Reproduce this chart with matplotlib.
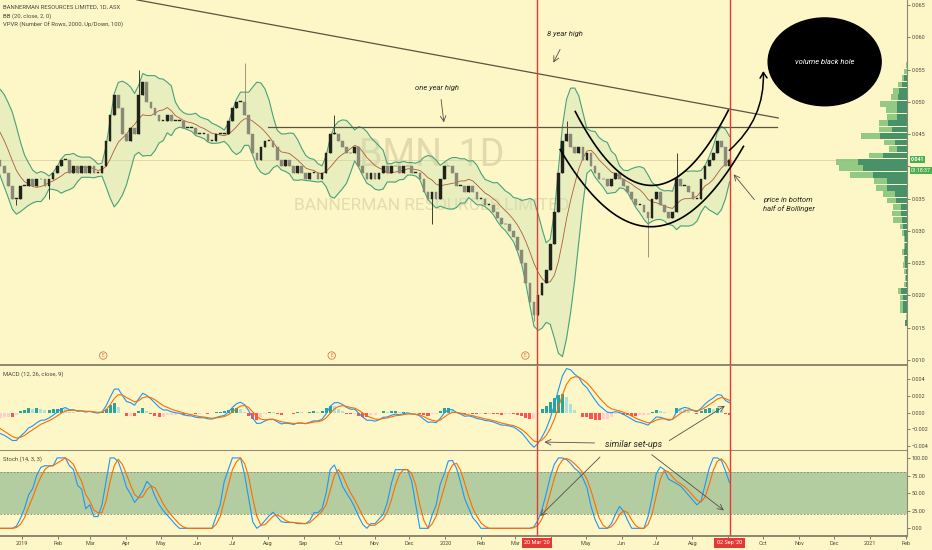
import numpy as np
import pandas as pd
import matplotlib
matplotlib.use('Agg')
import matplotlib.pyplot as plt
import matplotlib.dates as mdates
import matplotlib.transforms as mtrans
from matplotlib.patches import Ellipse, FancyArrowPatch

plt.rcParams['font.family'] = ['Roboto', 'DejaVu Sans']

# --- data ---------------------------------------------------------------
# closes in tenths of a cent (ASX tick is 0.001), two bars a week,
# 15 Nov 2018 -> 02 Sep 2020 (first 8 bars sit left of the visible window)
closes = [50, 49, 49, 48, 47, 45, 43, 41,
          40, 39, 37, 35, 35, 37, 37, 38, 37, 38, 38, 37, 38, 39, 40, 41, 41, 39,
          40, 39, 40, 39, 40, 39, 39, 40, 44, 48, 51, 49, 45, 44, 46, 45, 51, 53,
          50, 49, 48, 47, 47, 48, 47, 47, 47, 46, 46, 46, 45, 45, 45, 44, 44, 45,
          45, 45, 47, 49, 50, 50, 48, 45, 42, 41, 43, 44, 44, 43, 41, 40, 41, 40,
          39, 40, 39, 38, 39, 39, 38, 39, 42, 45, 45, 44, 43, 42, 42, 43, 40, 39,
          38, 39, 38, 39, 40, 39, 40, 40, 39, 40, 40, 39, 39, 38, 36, 35, 36, 35,
          38, 40, 40, 39, 37, 37, 36, 37, 36, 35, 35, 34, 34, 33, 32, 31, 31, 30,
          29, 27, 25, 22, 19, 17, 20, 22, 24, 28, 33, 39, 44, 45, 43, 42, 43, 41,
          42, 40, 39, 38, 38, 37, 38, 39, 38, 37, 36, 35, 34, 34, 33, 32, 35, 36,
          34, 33, 32, 33, 38, 37, 37, 36, 35, 35, 38, 40, 41, 42, 44, 43, 40, 41]
bar_start, bar_end = '2018-11-15', '2020-09-02'
# wicks that stick out past the bodies: {bar index: price}
high_spikes = {42: 55, 68: 56, 90: 48, 147: 47, 174: 42}
low_spikes = {12: 34, 20: 35, 114: 31, 139: 16, 167: 26}

# visible range volume profile (rows of 0.001), total and down volume
vp_levels = list(range(16, 57))
vp_total = [2, 1, 7, 7, 7, 9, 3, 2, 3, 4, 3, 5, 3, 3, 5, 7, 14, 15, 14, 20, 24,
            31, 33, 57, 68, 71, 38, 18, 23, 46, 28, 28, 20, 21, 27, 16, 14, 9, 5, 3, 1]
vp_down = [2, 0.5, 4, 4, 4, 6, 1.5, 1, 1.5, 2, 2, 3, 2, 2, 3, 4, 5, 6, 6, 11, 12,
           20, 20, 34, 44, 49, 24, 10, 12, 27, 15, 19, 10, 10, 10, 9, 8, 5, 3, 0.5, 0]

last_price = 0.041
marked_days = ['2020-03-20', '2020-09-02']
marked_labels = ["20 Mar '20", "02 Sep '20"]
earnings_days = ['2019-03-12', '2019-09-25', '2020-03-10']

# --- derived series -------------------------------------------------------
dates = pd.date_range(bar_start, bar_end, periods=len(closes))
c = pd.Series(np.array(closes) / 1000.0, index=dates)
o = c.shift(1).fillna(c.iloc[0])
h = np.maximum(o, c).copy()
l = np.minimum(o, c).copy()
for i, v in high_spikes.items():
    h.iloc[i] = v / 1000.0
for i, v in low_spikes.items():
    l.iloc[i] = v / 1000.0

basis = c.rolling(8).mean()
dev = c.rolling(8).std(ddof=0)
upper = basis + 2 * dev
lower = basis - 2 * dev

fast = c.ewm(span=5, adjust=False).mean()
slow = c.ewm(span=11, adjust=False).mean()
macd = fast - slow
signal = macd.ewm(span=4, adjust=False).mean()
hist = macd - signal

ll = l.rolling(7, min_periods=1).min()
hh = h.rolling(7, min_periods=1).max()
k_raw = 100 * (c - ll) / (hh - ll).replace(0, np.nan)
k_line = k_raw.rolling(3, min_periods=1).mean()
d_line = k_line.rolling(3, min_periods=1).mean()

# --- figure ---------------------------------------------------------------
BG = '#fdf6c7'
GRID = '#8c8672'
TXT = '#4a4a40'
fig = plt.figure(figsize=(9.32, 5.5), dpi=100, facecolor=BG)
W = 907 / 932
ax = fig.add_axes([0, 1 - 365 / 550, W, 365 / 550], facecolor=BG)
axm = fig.add_axes([0, 1 - 450.7 / 550, W, 85 / 550], facecolor=BG, sharex=ax)
axs = fig.add_axes([0, 1 - 536 / 550, W, 85 / 550], facecolor=BG, sharex=ax)

x0, x1 = pd.Timestamp('2018-12-13'), pd.Timestamp('2021-02-02')
for a in (ax, axm, axs):
    a.set_xlim(x0, x1)
    for s in ('left', 'top'):
        a.spines[s].set_visible(False)
    a.spines['right'].set_color(GRID)
    a.spines['right'].set_linewidth(0.8)
    a.spines['bottom'].set_color(GRID)
    a.spines['bottom'].set_linewidth(1.4)
    a.yaxis.tick_right()
    a.tick_params(axis='y', labelsize=4, colors=TXT, length=2, width=0.5, pad=1.5)
    for md in marked_days:
        a.axvline(pd.Timestamp(md), color='#e53935', lw=1.0, zorder=6)

# price panel
ax.set_ylim(0.00923, 0.06578)
pticks = np.round(np.arange(0.010, 0.0651, 0.005), 3)
ax.set_yticks(pticks)
# the 0.040 label sits under the last-price tags
ax.set_yticklabels(['' if abs(t - 0.040) < 1e-6 else '%.3f' % t for t in pticks])
ax.tick_params(axis='x', labelbottom=False, length=0)

ax.text(pd.Timestamp('2019-12-20'), 0.0418, 'BMN, 1D', fontsize=27, color='#e2daae',
        ha='center', va='center', zorder=0)
ax.text(pd.Timestamp('2019-12-20'), 0.0339, 'BANNERMAN RESOURCES LIMITED', fontsize=12.5,
        color='#e4dcb0', ha='center', va='center', zorder=0)

ax.axhline(last_price, color='#ddd3a3', lw=0.6, zorder=1)
ax.fill_between(dates, lower, upper, color='#c5e0ae', alpha=0.35, lw=0, zorder=1)
ax.plot(dates, upper, color='#47a27a', lw=0.8, zorder=2)
ax.plot(dates, lower, color='#47a27a', lw=0.8, zorder=2)
ax.plot(dates, basis, color='#b35a3a', lw=0.6, zorder=2)

up = c >= o
cols = np.where(up, '#22221c', '#8a8876')
body = (c - o).where((c - o).abs() > 0, 0.00012)
ax.vlines(dates, l, h, colors=cols, lw=0.6, zorder=3)
ax.bar(dates, body, bottom=o, width=2.3, color=cols, edgecolor=cols, lw=0.3, zorder=3)

# volume profile on the right edge
vp = ax.twiny()
vp.set_xlim(907, 0)
vp.set_axis_off()
lv = np.array(vp_levels) / 1000.0 - 0.0003
vp.barh(lv, vp_total, height=0.00088, color='#86c47c', alpha=0.9, lw=0, zorder=2)
vp.barh(lv, vp_down, height=0.00088, color='#3f8c66', alpha=0.9, lw=0, zorder=3)

# drawn trend lines
ax.plot([pd.Timestamp('2019-04-10'), pd.Timestamp('2020-10-14')], [0.0658, 0.0475],
        color='#5c5440', lw=0.9, zorder=4)
ax.plot([pd.Timestamp('2019-08-01'), pd.Timestamp('2020-10-13')], [0.0461, 0.0461],
        color='#5c5440', lw=0.9, zorder=4)


def arc(p0, p1, p2):
    xs = mdates.date2num([pd.Timestamp(p[0]) for p in (p0, p1, p2)])
    ys = [p[1] for p in (p0, p1, p2)]
    coef = np.polyfit(xs, ys, 2)
    xx = np.linspace(xs[0], xs[2], 80)
    ax.plot(mdates.num2date(xx), np.polyval(coef, xx), color='black', lw=1.2, zorder=7)


arc(('2020-04-22', 0.0485), ('2020-07-01', 0.0371), ('2020-09-01', 0.0487))
arc(('2020-04-09', 0.0426), ('2020-07-01', 0.0307), ('2020-09-14', 0.0431))

curve = FancyArrowPatch((mdates.date2num(pd.Timestamp('2020-08-31')), 0.0422),
                        (mdates.date2num(pd.Timestamp('2020-10-01')), 0.0552),
                        connectionstyle='arc3,rad=0.25', arrowstyle='->,head_length=4,head_width=2.5',
                        color='black', lw=1.1, zorder=7)
ax.add_patch(curve)

hole = Ellipse((mdates.date2num(pd.Timestamp('2020-11-23')), 0.0562), 97.4, 0.0136,
               color='black', zorder=8)
ax.add_patch(hole)
ax.text(pd.Timestamp('2020-11-23'), 0.0562, 'volume black hole', color='white', fontsize=5.5,
        style='italic', ha='center', va='center', zorder=9)

note = dict(fontsize=5.5, style='italic', color='#2a2a22', zorder=9)
arr = dict(arrowstyle='->,head_length=0.4,head_width=0.2', color='#555048', lw=0.6)
ax.annotate('', xy=(pd.Timestamp('2020-04-02'), 0.0557), xytext=(pd.Timestamp('2020-04-10'), 0.0585),
            arrowprops=arr)
ax.text(pd.Timestamp('2020-04-13'), 0.0605, '8 year high', ha='center', va='center', **note)
ax.annotate('', xy=(pd.Timestamp('2019-12-31'), 0.0464), xytext=(pd.Timestamp('2019-12-28'), 0.0508),
            arrowprops=arr)
ax.text(pd.Timestamp('2019-12-25'), 0.0522, 'one year high', ha='center', va='center', **note)
ax.annotate('', xy=(pd.Timestamp('2020-09-04'), 0.0391), xytext=(pd.Timestamp('2020-09-25'), 0.0345),
            arrowprops=arr)
ax.text(pd.Timestamp('2020-10-01'), 0.0352, 'price in bottom\nhalf of Bollinger', ha='left',
        va='top', linespacing=1.3, **note)

for d in earnings_days:
    ax.text(pd.Timestamp(d), 0.0107, 'E', fontsize=3.5, color='#e0784e', ha='center', va='center',
            bbox=dict(boxstyle='circle,pad=0.25', fc='none', ec='#e0784e', lw=0.6))

# last price tags
yt = mtrans.blended_transform_factory(ax.transAxes, ax.transData)
ax.text(1.004, last_price, '0.041', transform=yt, fontsize=3.8, color='white', fontweight='bold',
        va='center', ha='left', zorder=10, clip_on=False,
        bbox=dict(boxstyle='square,pad=0.2', fc='#4caf50', ec='none'))
ax.text(1.004, last_price - 0.0017, '01:18:37', transform=yt, fontsize=3.8, color='white',
        va='center', ha='left', zorder=10, clip_on=False,
        bbox=dict(boxstyle='square,pad=0.2', fc='#4caf50', ec='none'))

leg = dict(fontsize=4.2, color=TXT, transform=fig.transFigure, ha='left', va='center')
fig.text(3 / 932, 1 - 7 / 550, 'BANNERMAN RESOURCES LIMITED, 1D, ASX', **leg)
fig.text(3 / 932, 1 - 16 / 550, 'BB (20, close, 2, 0)', **leg)
fig.text(3 / 932, 1 - 25 / 550, 'VPVR (Number Of Rows, 2000, Up/Down, 100)', **leg)
fig.text(3 / 932, 1 - 374 / 550, 'MACD (12, 26, close, 9)', **leg)
fig.text(3 / 932, 1 - 459 / 550, 'Stoch (14, 3, 3)', **leg)

# MACD panel
axm.set_ylim(-0.00459, 0.00565)
axm.set_yticks([-0.004, -0.002, 0, 0.002, 0.004])
axm.set_yticklabels(['\u22120.004', '\u22120.002', '0.000', '0.002', '0.004'])
axm.tick_params(axis='x', labelbottom=False, length=0)
prev = hist.shift(1)
hcol = np.where(hist >= 0, np.where(hist >= prev, '#26a69a', '#b2dfdb'),
                np.where(hist < prev, '#ff5252', '#ffcdd2'))
axm.bar(dates, hist, width=2.6, color=hcol, lw=0, zorder=2)
axm.plot(dates, macd, color='#2196f3', lw=0.8, zorder=3)
axm.plot(dates, signal, color='#ff6d00', lw=0.8, zorder=3)

# Stoch panel
axs.set_ylim(-10.9, 109.8)
axs.set_yticks([0, 25, 50, 75, 100])
axs.set_yticklabels(['0.00', '25.00', '50.00', '75.00', '100.00'])
axs.axhspan(20, 80, color='#b4cda0', lw=0, zorder=0)
for lvl in (20, 80):
    axs.axhline(lvl, color='#85826f', lw=0.6, ls=(0, (2, 2)), zorder=1)
axs.plot(dates, k_line, color='#2196f3', lw=0.8, zorder=3)
axs.plot(dates, d_line, color='#ff6d00', lw=0.8, zorder=3)

ticks = pd.date_range('2019-01-01', '2021-02-01', freq='MS')
hidden = [pd.Timestamp('2020-04-01'), pd.Timestamp('2020-09-01')]
axs.set_xticks(ticks)
axs.set_xticklabels(['' if t in hidden else (t.strftime('%Y') if t.month == 1 else t.strftime('%b'))
                     for t in ticks])
axs.tick_params(axis='x', labelsize=4, colors=TXT, length=2, width=0.5, pad=1.5)

# similar set-ups notes across panels
axm.text(pd.Timestamp('2020-06-11'), -0.00379, 'similar set-ups', fontsize=6.5, style='italic',
         color='#2a2a22', ha='center', va='center', zorder=9)
axm.annotate('', xy=(pd.Timestamp('2020-03-24'), -0.00355), xytext=(pd.Timestamp('2020-05-11'), -0.00366),
             arrowprops=arr)
axm.annotate('', xy=(pd.Timestamp('2020-08-31'), 0.00099), xytext=(pd.Timestamp('2020-07-10'), -0.00355),
             arrowprops=arr)
axs.annotate('', xy=(pd.Timestamp('2020-03-21'), 14.6), xytext=(pd.Timestamp('2020-05-15'), 104),
             arrowprops=arr, annotation_clip=False)
axs.annotate('', xy=(pd.Timestamp('2020-08-30'), 23), xytext=(pd.Timestamp('2020-06-25'), 107),
             arrowprops=arr, annotation_clip=False)

xt = mtrans.blended_transform_factory(axs.transData, axs.transAxes)
for md, lab in zip(marked_days, marked_labels):
    axs.text(pd.Timestamp(md), -0.082, lab, transform=xt, fontsize=4, color='white', ha='center',
             va='center', zorder=10, clip_on=False,
             bbox=dict(boxstyle='square,pad=0.45', fc='#e53935', ec='none'))

fig.savefig('out.png', dpi=100, facecolor=BG)
